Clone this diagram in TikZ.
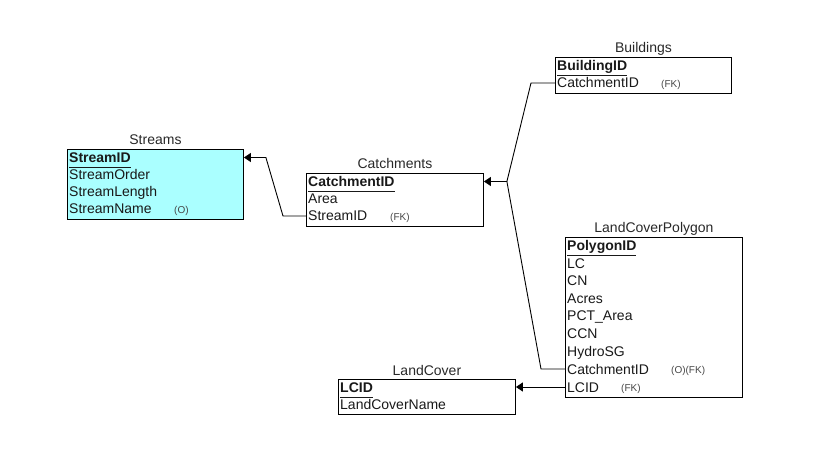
\documentclass[tikz,border=0pt]{standalone}
\usepackage{fontspec}
\setmainfont{Liberation Sans}
\usetikzlibrary{arrows.meta}
\definecolor{tblcyan}{RGB}{170,255,255}
\definecolor{ttlgray}{RGB}{40,40,40}
\definecolor{taggray}{RGB}{70,70,70}
% primary key: bold, underlined at a fixed depth
\newcommand{\pkey}[1]{\underline{\textbf{#1}\vphantom{g}}}
\begin{document}
\begin{tikzpicture}[x=1pt,y=-1pt,
  tbl/.style={draw=black, line width=0.9pt, anchor=north west, inner sep=0pt},
  ttl/.style={anchor=base, inner sep=0pt, text=ttlgray, font=\fontsize{14}{15}\selectfont},
  fld/.style={anchor=west, inner sep=0pt, text height=12pt, text depth=2pt,
              text=black!90, font=\fontsize{14}{15}\selectfont},
  tag/.style={anchor=west, inner sep=0pt, text height=9pt, text depth=1pt,
              text=taggray, font=\fontsize{10}{11}\selectfont},
  rel/.style={draw=black, line width=0.9pt},
  tip/.style={-{Triangle[length=7pt,width=9pt]}}
]
\useasboundingbox (0,0) rectangle (820,457);

% ---------------- Streams
\node[tbl, fill=tblcyan, minimum width=176pt, minimum height=70pt] (streams) at (67,149) {};
\node[ttl] at ([yshift=4pt]streams.north) {Streams};
\node[fld] (s-id)  at (69,157.5) {\pkey{StreamID}};
\node[fld] (s-ord) at (69,174.5) {StreamOrder};
\node[fld] (s-len) at (69,191.5) {StreamLength};
\node[fld] (s-nam) at (69,209)   {StreamName};
\node[tag] at (174,209.5) {(O)};

% ---------------- Catchments
\node[tbl, minimum width=177pt, minimum height=53pt] (catch) at (306,173) {};
\node[ttl] at ([yshift=4pt]catch.north) {Catchments};
\node[fld] (c-id)  at (308,181.5) {\pkey{CatchmentID}};
\node[fld] (c-ar)  at (308,198.5) {Area};
\node[fld] (c-sid) at (308,216)   {StreamID};
\node[tag] at (390,216.5) {(FK)};

% ---------------- Buildings
\node[tbl, minimum width=176pt, minimum height=36pt] (bld) at (555,57) {};
\node[ttl] at ([yshift=4pt]bld.north) {Buildings};
\node[fld] (b-id)  at (557,65.5) {\pkey{BuildingID}};
\node[fld] (b-cid) at (557,83)   {CatchmentID};
\node[tag] at (661,83.5) {(FK)};

% ---------------- LandCoverPolygon
\node[tbl, minimum width=177pt, minimum height=160pt] (lcp) at (565,237) {};
\node[ttl] at ([yshift=4pt]lcp.north) {LandCoverPolygon};
\node[fld] (p-id)   at (567,246)   {\pkey{PolygonID}};
\node[fld] (p-lc)   at (567,263.5) {LC};
\node[fld] (p-cn)   at (567,281)   {CN};
\node[fld] (p-ac)   at (567,298.5) {Acres};
\node[fld] (p-pct)  at (567,316)   {PCT\_Area};
\node[fld] (p-ccn)  at (567,333.5) {CCN};
\node[fld] (p-hsg)  at (567,351)   {HydroSG};
\node[fld] (p-cid)  at (567,369)   {CatchmentID};
\node[fld] (p-lcid) at (567,387)   {LCID};
\node[tag] at (671,369.5) {(O)(FK)};
\node[tag] at (621,387.5) {(FK)};

% ---------------- LandCover
\node[tbl, minimum width=177pt, minimum height=35pt] (lc) at (338,379) {};
\node[ttl] at ([yshift=4pt]lc.north) {LandCover};
\node[fld] (l-id)  at (340,387.5) {\pkey{LCID}};
\node[fld] (l-nam) at (340,404.5) {LandCoverName};

% ---------------- Relationships
\coordinate (j) at ([xshift=23pt]catch.east |- c-id);
\draw[rel, tip] (catch.west |- c-sid) -- ++(-23,0)
  -- ([xshift=22pt]streams.east |- s-id) -- (streams.east |- s-id);
\draw[rel, tip] (bld.west |- b-cid) -- ++(-24,0) -- (j) -- (catch.east |- c-id);
\draw[rel] (lcp.west |- p-cid) -- ++(-24,0) -- (j);
\draw[rel, tip] (lcp.west |- p-lcid) -- (lc.east |- p-lcid);
\end{tikzpicture}
\end{document}
